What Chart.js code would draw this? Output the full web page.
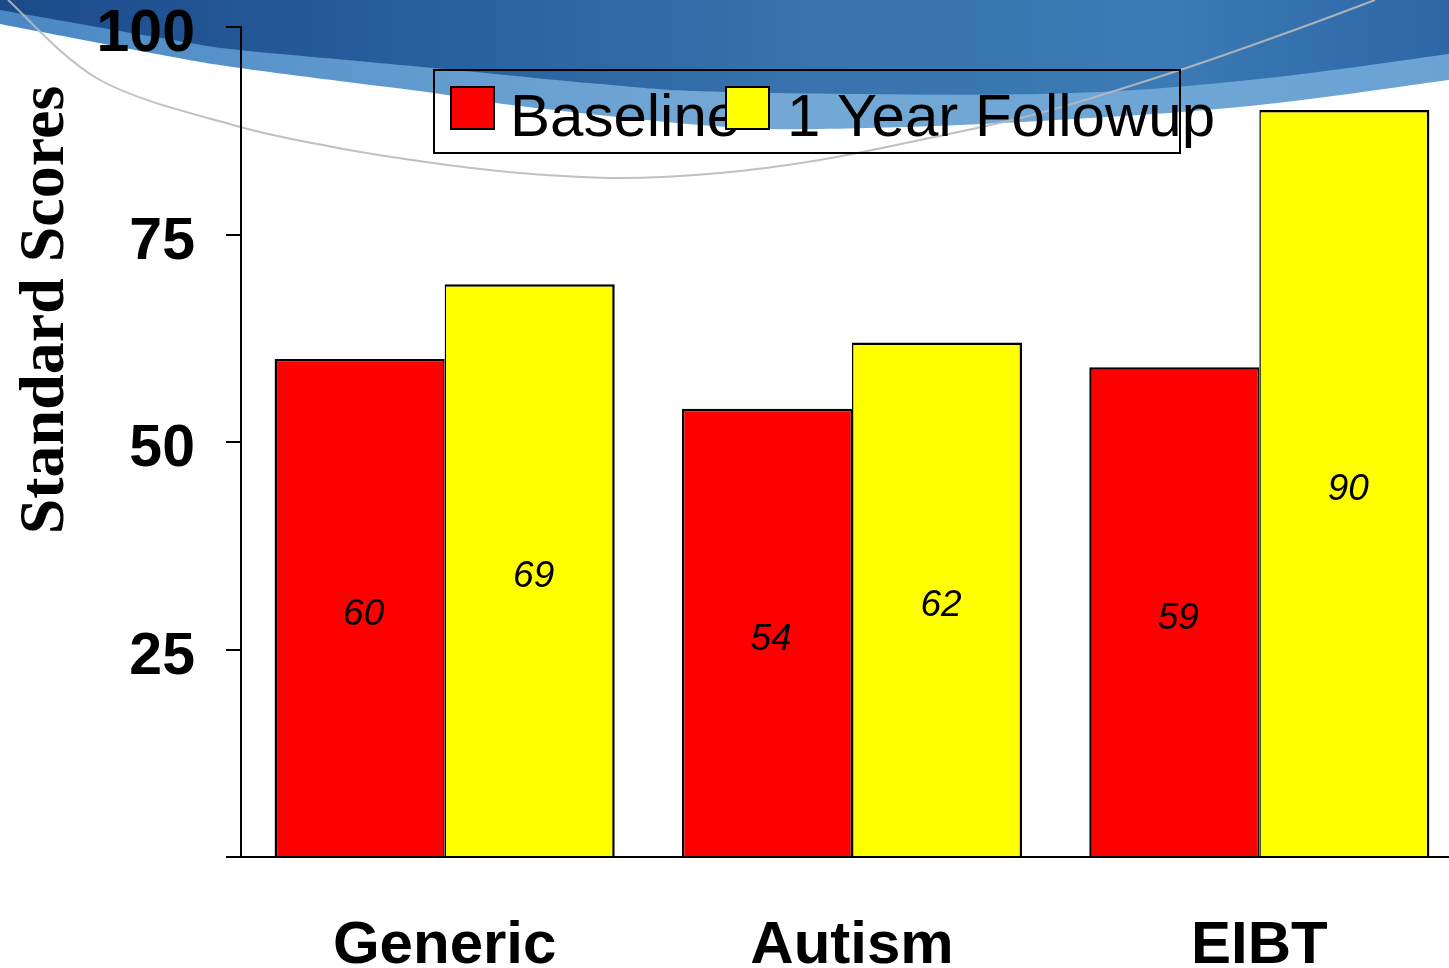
<!DOCTYPE html>
<html>
<head>
<meta charset="utf-8">
<script src="https://cdn.jsdelivr.net/npm/chart.js@4/dist/chart.umd.min.js"></script>
<style>
  html, body { margin: 0; padding: 0; overflow: hidden; background: #fff; }
  #wrap { width: 1449px; height: 968px; overflow: hidden; position: relative; }
  canvas { display: block; }
</style>
</head>
<body>
<div id="wrap"><canvas id="c" width="1463" height="968"></canvas></div>
<script>
const categories = ['Generic', 'Autism', 'EIBT'];
const seriesNames = ['Baseline', '1 Year Followup'];
const baselineValues = [60, 54, 59];
const followupValues = [69, 62, 90];
const yTickValues = [0, 25, 50, 75, 100];
const yTitle = 'Standard Scores';

const SANS = '"Liberation Sans", Arial, sans-serif';
const SERIF = '"Liberation Serif", "Times New Roman", serif';

// smooth path through points (Catmull-Rom -> Bezier), for the decorative background only
function smoothPath(ctx, pts, move) {
  if (move) ctx.moveTo(pts[0][0], pts[0][1]); else ctx.lineTo(pts[0][0], pts[0][1]);
  for (let i = 0; i < pts.length - 1; i++) {
    const p0 = pts[Math.max(0, i - 1)], p1 = pts[i], p2 = pts[i + 1], p3 = pts[Math.min(pts.length - 1, i + 2)];
    const c1x = p1[0] + (p2[0] - p0[0]) / 6, c1y = p1[1] + (p2[1] - p0[1]) / 6;
    const c2x = p2[0] - (p3[0] - p1[0]) / 6, c2y = p2[1] - (p3[1] - p1[1]) / 6;
    ctx.bezierCurveTo(c1x, c1y, c2x, c2y, p2[0], p2[1]);
  }
}

const swooshLight = [[0, 24], [173, 57], [240, 68], [347, 82], [434, 93], [520, 106], [727, 127], [867, 128], [1040, 121], [1250, 106], [1463, 78]];
const swooshDark = [[0, 10], [173, 40], [240, 50], [434, 68], [600, 84], [727, 92], [1040, 94], [1250, 80], [1463, 52]];
const arcPts = [[8, 0], [100, 80], [233, 125], [333, 147], [433, 163], [520, 173], [620, 178], [720, 173], [820, 160], [920, 140], [1040, 113], [1180, 70], [1300, 28], [1375, 0]];

const backgroundPlugin = {
  id: 'bg',
  beforeDraw(chart) {
    const ctx = chart.ctx;
    const W = chart.width;
    ctx.save();
    ctx.fillStyle = '#ffffff';
    ctx.fillRect(0, 0, W, chart.height);
    let g = ctx.createLinearGradient(0, 0, W, 0);
    g.addColorStop(0, '#4a88c4');
    g.addColorStop(0.5, '#74a9d6');
    g.addColorStop(1, '#6aa3d4');
    ctx.fillStyle = g;
    ctx.beginPath();
    ctx.moveTo(0, 0);
    smoothPath(ctx, swooshLight, false);
    ctx.lineTo(W, 0);
    ctx.closePath();
    ctx.fill();
    g = ctx.createLinearGradient(0, 0, W, 0);
    g.addColorStop(0, '#1c4a89');
    g.addColorStop(0.3, '#28609f');
    g.addColorStop(0.55, '#3873ad');
    g.addColorStop(0.8, '#3b7bb5');
    g.addColorStop(1, '#2b65a5');
    ctx.fillStyle = g;
    ctx.beginPath();
    ctx.moveTo(0, 0);
    smoothPath(ctx, swooshDark, false);
    ctx.lineTo(W, 0);
    ctx.closePath();
    ctx.fill();
    ctx.strokeStyle = 'rgba(185,185,185,0.9)';
    ctx.lineWidth = 2;
    ctx.beginPath();
    smoothPath(ctx, arcPts, true);
    ctx.stroke();
    ctx.restore();
  }
};

const labelPlugin = {
  id: 'barLabels',
  afterDatasetsDraw(chart) {
    const ctx = chart.ctx;
    ctx.save();
    ctx.font = 'italic 37px ' + SANS;
    ctx.fillStyle = '#000';
    ctx.textAlign = 'center';
    ctx.textBaseline = 'middle';
    chart.data.datasets.forEach((ds, di) => {
      const meta = chart.getDatasetMeta(di);
      meta.data.forEach((el, i) => {
        const p = el.getProps(['x', 'y', 'base'], true);
        ctx.fillText(String(ds.data[i]), p.x + 4, (p.y + p.base) / 2 + 7);
      });
    });
    ctx.restore();
  }
};

const legendTitlePlugin = {
  id: 'legendTitle',
  afterDraw(chart) {
    const ctx = chart.ctx;
    ctx.save();
    ctx.translate(63, 310);
    ctx.rotate(-Math.PI / 2);
    ctx.font = 'bold 64px ' + SERIF;
    ctx.fillStyle = '#000';
    ctx.textAlign = 'center';
    ctx.textBaseline = 'alphabetic';
    ctx.fillText(yTitle, 0, 0);
    ctx.restore();
    ctx.save();
    ctx.strokeStyle = '#000';
    ctx.lineWidth = 2;
    ctx.strokeRect(434, 70, 746, 83);
    ctx.font = '60px ' + SANS;
    ctx.textBaseline = 'alphabetic';
    ctx.textAlign = 'left';
    const items = chart.data.datasets;
    const boxX = [451, 726];
    const textX = [510, 787];
    items.forEach((ds, i) => { ctx.fillStyle = '#000'; ctx.fillText(ds.label, textX[i], 136); });
    items.forEach((ds, i) => {
      ctx.fillStyle = ds.backgroundColor;
      ctx.fillRect(boxX[i], 87, 43, 42);
      ctx.strokeRect(boxX[i], 87, 43, 42);
    });
    ctx.restore();
  }
};

new Chart(document.getElementById('c'), {
  type: 'bar',
  data: {
    labels: categories,
    datasets: [
      { label: seriesNames[0], data: baselineValues, backgroundColor: '#ff0000', borderColor: '#000',
        borderWidth: { top: 2.5, left: 2.5, right: 1.5, bottom: 0 }, borderSkipped: false },
      { label: seriesNames[1], data: followupValues, backgroundColor: '#ffff00', borderColor: '#000',
        borderWidth: { top: 2.5, left: 1.5, right: 2.5, bottom: 0 }, borderSkipped: false }
    ]
  },
  options: {
    responsive: false,
    animation: false,
    devicePixelRatio: 1,
    layout: { padding: { top: 27, left: 0, right: 0, bottom: 0 } },
    plugins: { legend: { display: false }, tooltip: { enabled: false } },
    datasets: { bar: { categoryPercentage: 0.835, barPercentage: 1.0 } },
    scales: {
      x: {
        grid: { display: true, drawOnChartArea: false, drawTicks: false, color: '#000' },
        border: { display: true, color: '#000', width: 2 },
        ticks: { font: { family: SANS, size: 60, weight: 'bold' }, color: '#000', padding: 53 },
        afterFit(s) { s.height = 111; s.paddingLeft = 0; s.paddingRight = 0; }
      },
      y: {
        min: 0, max: 100,
        afterBuildTicks(s) { s.ticks = yTickValues.map(v => ({ value: v })); },
        grid: { display: true, drawOnChartArea: false, drawTicks: true, tickLength: 15, color: '#000', lineWidth: 2 },
        border: { display: true, color: '#000', width: 2 },
        ticks: {
          font: { family: SANS, size: 59, weight: 'bold' },
          color: '#000', padding: 31, labelOffset: 8,
          callback: (v) => v === 0 ? '' : String(v)
        },
        afterFit(s) { s.width = 241; s.paddingTop = 0; s.paddingBottom = 0; }
      }
    }
  },
  plugins: [backgroundPlugin, labelPlugin, legendTitlePlugin]
});
</script>
</body>
</html>
